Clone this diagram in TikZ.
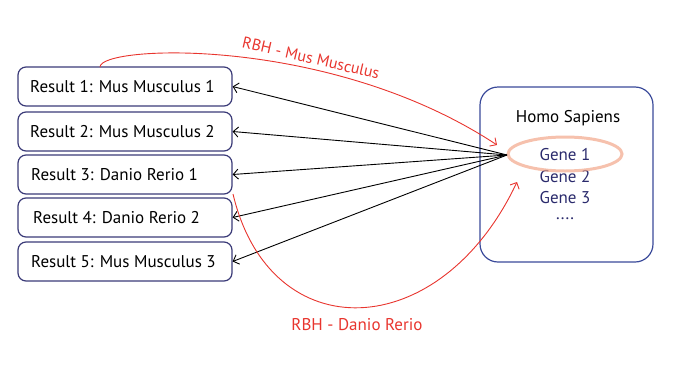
\documentclass[tikz,border=0pt]{standalone}
\usepackage{fontspec}
\setmainfont{PT Sans}
\usetikzlibrary{arrows.meta}
\definecolor{boxline}{HTML}{3B3B78}
\definecolor{hsline}{HTML}{3A4A9A}
\definecolor{genetext}{HTML}{2A2A6C}
\definecolor{rbhred}{HTML}{E8352E}
\definecolor{halo}{HTML}{F2A78A}
\begin{document}
\begin{tikzpicture}[x=1pt,y=-1pt,
  resultbox/.style={draw=boxline,line width=1.2pt,rounded corners=8pt,
    minimum width=214pt,minimum height=39pt,inner sep=0pt},
  boxtext/.style={anchor=west,inner sep=0pt,font=\fontsize{17}{19}\selectfont},
  hit/.style={draw=black,line width=0.9pt,-{Straight Barb[length=5pt,width=10pt]}},
  rbh/.style={draw=rbhred,line width=0.9pt,-{Straight Barb[length=5pt,width=10pt]}},
  gene/.style={text=genetext,font=\fontsize{17}{19}\selectfont}]
\useasboundingbox (0,0) rectangle (692,367);

% BLAST hit boxes
\node[resultbox] (r1) at (125,86.5) {};
\node[resultbox] (r2) at (125,131.5) {};
\node[resultbox] (r3) at (125,174.5) {};
\node[resultbox] (r4) at (125,217.5) {};
\node[resultbox] (r5) at (125,261.5) {};
\node[boxtext] (t1) at (30,86.5) {Result 1: Mus Musculus 1};
\node[boxtext] (t2) at (30,131.5) {Result 2: Mus Musculus 2};
\node[boxtext] (t3) at (31,174.5) {Result 3: Danio Rerio 1};
\node[boxtext] (t4) at (33,217.5) {Result 4: Danio Rerio 2};
\node[boxtext] (t5) at (31,261.5) {Result 5: Mus Musculus 3};

% Query organism
\node[draw=hsline,line width=1.2pt,rounded corners=18pt,minimum width=173pt,minimum height=175pt] (hs) at (566.5,174.5) {};
\node[font=\fontsize{17}{19}\selectfont] (hstitle) at (568,118) {Homo Sapiens};
\node[gene] (g1) at (565,155) {Gene 1};
\node[gene] (g2) at (565,177) {Gene 2};
\node[gene] (g3) at (565,198) {Gene 3};
\node[gene] (gd) at (565,219) {....};
\draw[halo,line width=3pt,opacity=0.7] (565,154) ellipse [x radius=57pt,y radius=17pt];
\coordinate (src) at (507,155);

% Forward hits
\foreach \r in {r1,r2,r3,r4,r5}
  \draw[hit] (src) -- (\r.east);

% Reciprocal best hits
\coordinate (mm) at (100,67);
\coordinate (mmtip) at (497,145);
\draw[rbh] (mm) .. controls (100,45) and (330,35) .. (mmtip);
\node[text=rbhred,rotate=-13,inner sep=0pt,font=\fontsize{16}{18}\selectfont] (mmlabel) at (311,58) {RBH - Mus Musculus};

\coordinate (dr) at (233,194);
\coordinate (drtip) at (517,182);
\draw[rbh] (dr) .. controls (270,350) and (440,345) .. (drtip);
\node[text=rbhred,font=\fontsize{17}{19}\selectfont] (drlabel) at (357,325) {RBH - Danio Rerio};
\end{tikzpicture}
\end{document}
